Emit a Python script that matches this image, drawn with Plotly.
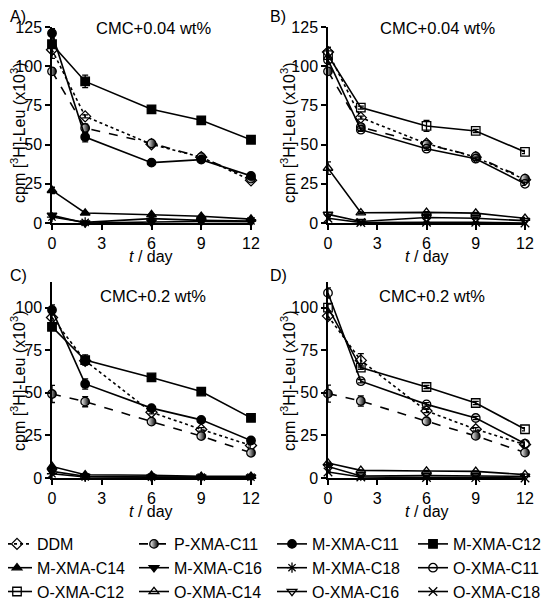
import plotly.graph_objects as go

t = [0, 2, 6, 9, 12]

# ---- Panel A: CMC+0.04 wt%, M-XMA series ----
A_DDM = [110.5, 68.0, 50.2, 42.0, 27.2]
A_P11 = [96.7, 60.6, 50.8, 42.0, 28.3]
A_M11 = [121.0, 54.8, 38.5, 40.4, 30.0]
A_M12 = [114.0, 90.3, 72.5, 65.5, 53.1]
A_M14 = [20.8, 6.4, 5.3, 4.3, 2.5]
A_M16 = [4.9, 0.0, 0.6, 1.0, 0.8]
A_M18 = [3.8, 0.4, 2.8, 1.7, 1.3]
A_err_DDM = [3, 1, 1, 1, 1]
A_err_P11 = [2, 2.5, 1, 1, 1]
A_err_M11 = [3, 3, 1, 1, 1]
A_err_M12 = [9, 4, 1, 1, 1]
A_err_M14 = [2, 0.5, 0.5, 0.5, 0.5]
A_err_M16 = [1, 0.3, 0.3, 0.3, 0.3]
A_err_M18 = [1, 0.3, 0.5, 0.3, 0.3]

# ---- Panel B: CMC+0.04 wt%, O-XMA series ----
B_DDM = [109.0, 67.2, 50.6, 42.0, 27.6]
B_P11 = [96.7, 61.2, 50.2, 42.5, 28.3]
B_O11 = [104.0, 59.5, 47.4, 41.0, 25.0]
B_O12 = [107.0, 73.6, 61.9, 58.7, 45.3]
B_O14 = [35.0, 6.5, 6.8, 6.3, 3.0]
B_O16 = [5.5, 1.0, 3.5, 3.0, 1.5]
B_O18 = [3.0, 0.3, 0.5, 0.5, 0.0]
B_err_DDM = [3, 1, 1, 1, 1]
B_err_P11 = [2, 2, 1, 1, 1]
B_err_O11 = [3, 1, 1, 1, 1]
B_err_O12 = [5, 1, 3.5, 1, 1]
B_err_O14 = [4, 0.5, 0.5, 0.5, 0.5]
B_err_O16 = [1, 0.3, 0.5, 0.5, 0.3]
B_err_O18 = [1, 0.3, 0.3, 0.3, 0.3]

# ---- Panel C: CMC+0.2 wt%, M-XMA series ----
C_DDM = [94.2, 68.8, 38.6, 28.5, 19.1]
C_P11 = [49.3, 44.8, 33.1, 24.6, 14.8]
C_M11 = [98.6, 55.2, 41.0, 34.1, 22.0]
C_M12 = [88.7, 69.2, 59.0, 50.7, 35.3]
C_M14 = [6.8, 1.9, 1.6, 1.0, 1.0]
C_M16 = [3.9, 1.0, 0.6, 0.6, 0.6]
C_M18 = [2.5, 0.6, 0.5, 0.5, 0.5]
C_err_DDM = [2, 2, 1, 1, 1]
C_err_P11 = [5, 3, 1, 1, 1]
C_err_M11 = [3, 3, 1, 1, 1]
C_err_M12 = [1, 3, 1, 1, 1]
C_err_M14 = [0.5, 0.3, 0.3, 0.3, 0.3]
C_err_M16 = [0.5, 0.3, 0.3, 0.3, 0.3]
C_err_M18 = [0.5, 0.3, 0.3, 0.3, 0.3]

# ---- Panel D: CMC+0.2 wt%, O-XMA series ----
D_DDM = [95.0, 69.0, 39.3, 28.6, 19.6]
D_P11 = [49.5, 45.2, 33.3, 24.7, 14.9]
D_O11 = [108.6, 56.8, 43.2, 35.2, 20.2]
D_O12 = [100.0, 64.8, 53.4, 44.0, 28.6]
D_O14 = [8.8, 4.5, 4.1, 3.9, 2.0]
D_O16 = [6.8, 1.2, 1.4, 1.0, 1.0]
D_O18 = [3.5, 0.6, 0.3, 0.2, 0.0]
D_err_DDM = [2, 4, 1, 1, 1]
D_err_P11 = [5, 3, 1, 1, 1]
D_err_O11 = [3, 1, 1, 1, 1]
D_err_O12 = [2, 1, 1, 1, 1]
D_err_O14 = [0.5, 0.3, 0.3, 0.3, 0.3]
D_err_O16 = [0.5, 0.3, 0.3, 0.3, 0.3]
D_err_O18 = [0.5, 0.3, 0.3, 0.3, 0.3]

series_names = ["DDM", "P-XMA-C11", "M-XMA-C11", "M-XMA-C12",
                "M-XMA-C14", "M-XMA-C16", "M-XMA-C18", "O-XMA-C11",
                "O-XMA-C12", "O-XMA-C14", "O-XMA-C16", "O-XMA-C18"]
panel_titles = ["CMC+0.04 wt%", "CMC+0.04 wt%", "CMC+0.2 wt%", "CMC+0.2 wt%"]
panel_letters = ["A)", "B)", "C)", "D)"]
x_ticks = [0, 3, 6, 9, 12]
y_ticks_top = [0, 25, 50, 75, 100, 125]
y_ticks_bot = [0, 25, 50, 75, 100]

panels = [
    {"DDM": (A_DDM, A_err_DDM), "P-XMA-C11": (A_P11, A_err_P11), "M-XMA-C11": (A_M11, A_err_M11),
     "M-XMA-C12": (A_M12, A_err_M12), "M-XMA-C14": (A_M14, A_err_M14), "M-XMA-C16": (A_M16, A_err_M16),
     "M-XMA-C18": (A_M18, A_err_M18)},
    {"DDM": (B_DDM, B_err_DDM), "P-XMA-C11": (B_P11, B_err_P11), "O-XMA-C11": (B_O11, B_err_O11),
     "O-XMA-C12": (B_O12, B_err_O12), "O-XMA-C14": (B_O14, B_err_O14), "O-XMA-C16": (B_O16, B_err_O16),
     "O-XMA-C18": (B_O18, B_err_O18)},
    {"DDM": (C_DDM, C_err_DDM), "P-XMA-C11": (C_P11, C_err_P11), "M-XMA-C11": (C_M11, C_err_M11),
     "M-XMA-C12": (C_M12, C_err_M12), "M-XMA-C14": (C_M14, C_err_M14), "M-XMA-C16": (C_M16, C_err_M16),
     "M-XMA-C18": (C_M18, C_err_M18)},
    {"DDM": (D_DDM, D_err_DDM), "P-XMA-C11": (D_P11, D_err_P11), "O-XMA-C11": (D_O11, D_err_O11),
     "O-XMA-C12": (D_O12, D_err_O12), "O-XMA-C14": (D_O14, D_err_O14), "O-XMA-C16": (D_O16, D_err_O16),
     "O-XMA-C18": (D_O18, D_err_O18)},
]

styles = {
    "DDM": dict(symbol="diamond-open", dash="dot"),
    "P-XMA-C11": dict(symbol="circle", dash="dash", half=True),
    "M-XMA-C11": dict(symbol="circle", dash="solid"),
    "M-XMA-C12": dict(symbol="square", dash="solid"),
    "M-XMA-C14": dict(symbol="triangle-up", dash="solid"),
    "M-XMA-C16": dict(symbol="triangle-down", dash="solid"),
    "M-XMA-C18": dict(symbol="asterisk-open", dash="solid"),
    "O-XMA-C11": dict(symbol="circle-open", dash="solid"),
    "O-XMA-C12": dict(symbol="square-open", dash="solid"),
    "O-XMA-C14": dict(symbol="triangle-up-open", dash="solid"),
    "O-XMA-C16": dict(symbol="triangle-down-open", dash="solid"),
    "O-XMA-C18": dict(symbol="x-thin-open", dash="solid"),
}

FONT = "Arial, Liberation Sans, sans-serif"
OFF = 8                 # page body margin offset
W, H = 549 - OFF, 600 - OFF
MB = 70                 # bottom margin holding the legend
PH = H - MB             # plot-area height

def fx(p):
    """screen x pixel -> paper fraction"""
    return (p - OFF) / W

def fy(p):
    """screen y pixel (from top) -> paper fraction"""
    return (PH - (p - OFF)) / PH

legend_ids = ["legend", "legend2", "legend3", "legend4"]
legend_col_x = [22, 159, 297, 438]

fig = go.Figure()
shown = set()
axis_ids = ["", "2", "3", "4"]

for pi, pdata in enumerate(panels):
    ax = axis_ids[pi]
    for name in series_names:
        if name not in pdata:
            continue
        vals, errs = pdata[name]
        st = styles[name]
        marker = dict(symbol=st["symbol"], size=8.5, color="black",
                      line=dict(color="black", width=1.3))
        if st.get("half"):
            marker = dict(symbol="circle", size=8.5, color="white",
                          gradient=dict(type="horizontal", color="black"),
                          line=dict(color="black", width=1.3))
        idx = series_names.index(name)
        fig.add_trace(go.Scatter(
            x=t, y=vals, name=name, mode="lines+markers",
            xaxis="x" + ax, yaxis="y" + ax,
            line=dict(color="black", width=1.6, dash=st["dash"]),
            marker=marker,
            error_y=dict(type="data", array=errs, color="black", thickness=1.3, width=3),
            cliponaxis=False,
            showlegend=name not in shown,
            legend=legend_ids[idx % 4],
            legendrank=idx + 1,
        ))
        shown.add(name)

xdom = [[fx(52), fx(251)], [fx(328), fx(525)]]
ydom_top = [fy(223), fy(27)]
ydom_bot = [fy(478), fy(282)]

axis_common = dict(showline=True, linecolor="black", linewidth=1.5, ticks="outside",
                   ticklen=5, tickwidth=1.5, tickcolor="black", showgrid=False, zeroline=False,
                   tickfont=dict(family=FONT, size=16, color="black"))

layout = dict(width=W, height=H, margin=dict(l=0, r=0, t=0, b=MB, autoexpand=False),
              paper_bgcolor="white", plot_bgcolor="white",
              font=dict(family=FONT, color="black"))

for pi in range(4):
    ax = axis_ids[pi]
    xd = xdom[pi % 2]
    yd = ydom_top if pi < 2 else ydom_bot
    yr = [0, 125] if pi < 2 else [0, 115]
    yt = y_ticks_top if pi < 2 else y_ticks_bot
    layout["xaxis" + ax] = dict(axis_common, domain=xd, range=[0, 12], tickvals=x_ticks,
                                anchor="y" + ax)
    layout["yaxis" + ax] = dict(axis_common, domain=yd, range=yr, tickvals=yt,
                                anchor="x" + ax)

for li, lid in enumerate(legend_ids):
    layout[lid] = dict(orientation="v", x=fx(legend_col_x[li] - 25), y=fy(527),
                       xanchor="left", yanchor="top", itemwidth=30,
                       font=dict(family=FONT, size=16, color="black"),
                       bgcolor="rgba(0,0,0,0)", tracegroupgap=0, traceorder="normal")

fig.update_layout(**layout)

title_pos = [(153, 28), (437, 28), (153, 296), (432, 296)]
letter_pos = [(OFF, 16), (268, 16), (OFF, 275), (268, 275)]
ytitle_pos = [(18, 133), (288, 133), (18, 381), (288, 381)]
xtitle_pos = [(151, 256), (427, 256), (151, 511), (427, 511)]

annots = []
for pi in range(4):
    annots.append(dict(text=panel_titles[pi], x=fx(title_pos[pi][0]), y=fy(title_pos[pi][1]),
                       xref="paper", yref="paper", xanchor="center", yanchor="middle",
                       showarrow=False, font=dict(family=FONT, size=16.5, color="black")))
    annots.append(dict(text=panel_letters[pi], x=fx(letter_pos[pi][0]), y=fy(letter_pos[pi][1]),
                       xref="paper", yref="paper", xanchor="left", yanchor="middle",
                       showarrow=False, font=dict(family=FONT, size=16, color="black")))
    annots.append(dict(text="cpm [<sup>3</sup>H]-Leu (x10<sup>3</sup>)",
                       x=fx(ytitle_pos[pi][0]), y=fy(ytitle_pos[pi][1]),
                       xref="paper", yref="paper", textangle=-90,
                       xanchor="center", yanchor="middle", showarrow=False,
                       font=dict(family=FONT, size=16, color="black")))
    annots.append(dict(text="<i>t</i> / day", x=fx(xtitle_pos[pi][0]), y=fy(xtitle_pos[pi][1]),
                       xref="paper", yref="paper", xanchor="center", yanchor="middle",
                       showarrow=False, font=dict(family=FONT, size=16, color="black")))

fig.update_layout(annotations=annots)

fig.write_html("out.html")
